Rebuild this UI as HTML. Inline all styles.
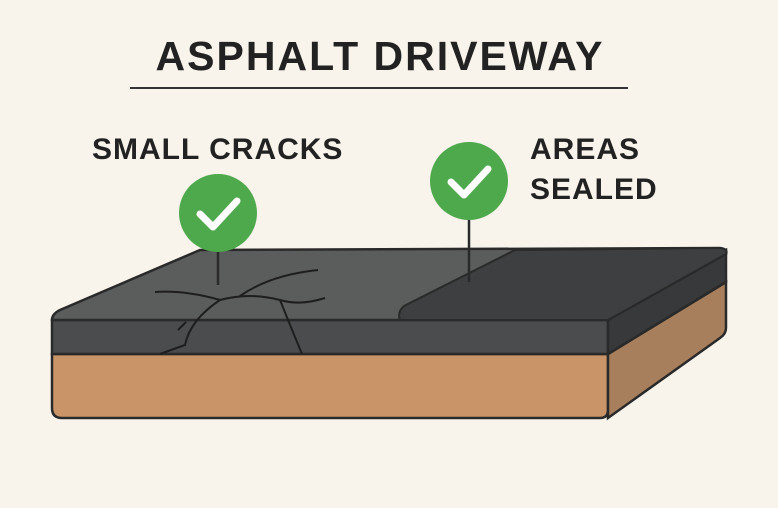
<!DOCTYPE html>
<html><head><style>
html,body{margin:0;padding:0;background:#f8f4ec;}
svg{display:block}
text{font-family:"Liberation Sans",sans-serif;font-weight:bold;fill:#222}
</style></head><body>
<svg width="778" height="508" viewBox="0 0 778 508" xmlns="http://www.w3.org/2000/svg">
<rect width="778" height="508" fill="#f8f4ec"/>
<text x="380" y="70" text-anchor="middle" font-size="41" letter-spacing="2">ASPHALT DRIVEWAY</text>
<line x1="130" y1="88" x2="628" y2="88" stroke="#333" stroke-width="2"/>
<text x="92" y="159" font-size="30" letter-spacing="1">SMALL CRACKS</text>
<text x="530" y="159" font-size="30" letter-spacing="1">AREAS</text>
<text x="530" y="199" font-size="30" letter-spacing="1">SEALED</text>
<!-- soil front -->
<path d="M52,354 L608,354 L608,410 Q608,418 600,418 L62,418 Q52,418 52,408 Z" fill="#c99468" stroke="#2a2a2a" stroke-width="2.5"/>
<!-- soil side -->
<path d="M608,354 L726,282 L726,328 Q726,334 720,338 L608,418 Z" fill="#a77f5c" stroke="#2a2a2a" stroke-width="2.5"/>
<!-- asphalt front -->
<path d="M52,320 L608,320 L608,354 L52,354 Z" fill="#4b4c4d" stroke="#2a2a2a" stroke-width="2.5"/>
<!-- asphalt side -->
<path d="M608,320 L726,250 L726,282 L608,354 Z" fill="#38393b" stroke="#2a2a2a" stroke-width="2.5"/>
<!-- top -->
<path d="M52,320 Q52,314 60,310 L200,250 L720,248 Q728,249 726,254 L608,320 Z" fill="#5b5c5c" stroke="#2a2a2a" stroke-width="2.5"/>
<!-- sealed -->
<path d="M515,250 L720,248 Q728,249 726,254 L608,320 L400,320 Q397,312 404,306 Z" fill="#3d3f41" stroke="#2a2a2a" stroke-width="2"/>
<!-- cracks -->
<g fill="none" stroke="#1e1e1e" stroke-width="2">
<path d="M155,292 Q185,290 220,300 Q250,292 280,300 Q300,306 325,298"/>
<path d="M220,300 Q190,320 185,345 L160,354"/>
<path d="M280,300 Q290,325 302,354"/>
<path d="M240,296 Q270,275 318,270"/>
<path d="M186,322 L178,330"/>
</g>
<!-- pins -->
<line x1="218" y1="240" x2="218" y2="285" stroke="#2a2a2a" stroke-width="2.5"/>
<line x1="469" y1="205" x2="469" y2="282" stroke="#2a2a2a" stroke-width="2.5"/>
<circle cx="218" cy="213" r="39" fill="#4ea94c"/>
<circle cx="469" cy="181" r="39" fill="#4ea94c"/>
<path d="M200,214 L213,227 L237,201" fill="none" stroke="#fff" stroke-width="7" stroke-linecap="round" stroke-linejoin="round"/>
<path d="M451,182 L464,195 L488,169" fill="none" stroke="#fff" stroke-width="7" stroke-linecap="round" stroke-linejoin="round"/>
</svg>
</body></html>
